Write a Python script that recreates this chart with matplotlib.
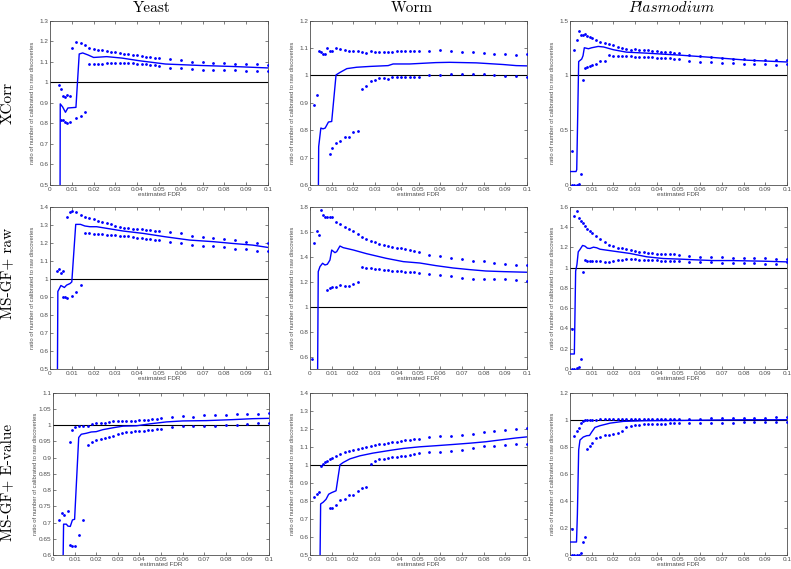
import numpy as np
import matplotlib
matplotlib.use("Agg")
import matplotlib.pyplot as plt

plt.rcParams["font.family"] = ["Liberation Sans", "DejaVu Sans"]
nan = float("nan")

# FDR grid where the bound dots sit
dot_x = [0.001, 0.002, 0.003, 0.004, 0.005, 0.006, 0.007, 0.008, 0.009, 0.010,
         0.012, 0.014, 0.016, 0.018, 0.020, 0.022, 0.024, 0.026, 0.028, 0.030,
         0.032, 0.034, 0.036, 0.038, 0.040, 0.042, 0.044, 0.046, 0.048, 0.050,
         0.055, 0.060, 0.065, 0.070, 0.075, 0.080, 0.085, 0.090, 0.095, 0.100]

# ---- XCorr ----
yeast_xcorr_hi = [nan, nan, nan, 0.987, 0.966, 0.934, 0.930, 0.937, 0.935, 1.167,
                  1.195, 1.190, 1.180, 1.167, 1.160, 1.158, 1.155, 1.152, 1.148, 1.146,
                  1.143, 1.140, 1.137, 1.135, 1.132, 1.128, 1.125, 1.122, 1.120, 1.118,
                  1.113, 1.108, 1.100, 1.097, 1.095, 1.094, 1.090, 1.089, 1.088, 1.086]
yeast_xcorr_lo = [nan, nan, nan, nan, 0.818, 0.818, 0.806, 0.800, 0.806, nan,
                  0.826, 0.838, 0.854, 1.090, 1.090, 1.090, 1.090, 1.092, 1.092, 1.094,
                  1.096, 1.095, 1.094, 1.092, 1.090, 1.088, 1.087, 1.086, 1.084, 1.080,
                  1.070, 1.070, 1.066, 1.061, 1.061, 1.061, 1.059, 1.056, 1.054, 1.054]
yeast_xcorr_lx = [0.0046, 0.0047, 0.0058, 0.0071, 0.0082, 0.0119, 0.0134, 0.0150, 0.0175,
                  0.020, 0.026, 0.033, 0.041, 0.053, 0.069, 0.084, 0.100]
yeast_xcorr_ly = [0.40, 0.895, 0.880, 0.854, 0.875, 0.878, 1.138, 1.143, 1.133,
                  1.121, 1.125, 1.118, 1.105, 1.089, 1.082, 1.077, 1.070]

worm_xcorr_hi = [nan, 0.891, 0.930, 1.088, 1.084, 1.079, 1.077, 1.100, 1.091, 1.089,
                 1.102, 1.095, 1.094, 1.091, 1.088, 1.088, 1.084, 1.081, 1.088, 1.087,
                 1.087, 1.086, 1.085, 1.087, 1.088, 1.090, 1.091, 1.091, 1.091, 1.091,
                 1.091, 1.093, 1.090, 1.086, 1.085, 1.083, 1.080, 1.078, 1.075, 1.077]
worm_xcorr_lo = [nan, nan, nan, nan, nan, nan, nan, nan, 0.712, 0.735,
                 0.752, 0.760, 0.775, 0.775, 0.795, 0.796, 0.952, 0.962, 0.978, 0.984,
                 0.989, 0.991, 0.988, 0.995, 0.995, 0.995, 0.995, 0.993, 0.993, 0.996,
                 1.002, 1.002, 1.006, 1.006, 1.007, 1.004, 1.002, 0.998, 0.998, 0.994]
worm_xcorr_lx = [0.0038, 0.0040, 0.0050, 0.0060, 0.0070, 0.0085, 0.0100, 0.0120, 0.0138,
                 0.0170, 0.0215, 0.0276, 0.0360, 0.0383, 0.0460, 0.0580, 0.0644, 0.0767,
                 0.0890, 0.0950, 0.1000]
worm_xcorr_ly = [0.50, 0.740, 0.808, 0.805, 0.808, 0.830, 0.832, 1.002, 1.011,
                 1.025, 1.030, 1.033, 1.036, 1.042, 1.042, 1.047, 1.048, 1.046,
                 1.040, 1.036, 1.035]

plas_xcorr_hi = [0.312, 1.235, 1.327, 1.404, 1.373, 1.373, 1.380, 1.364, 1.350, 1.343,
                 1.327, 1.309, 1.300, 1.287, 1.278, 1.262, 1.247, 1.238, 1.235, 1.238,
                 1.235, 1.232, 1.228, 1.224, 1.220, 1.217, 1.213, 1.210, 1.207, 1.204,
                 1.191, 1.179, 1.170, 1.160, 1.154, 1.151, 1.145, 1.145, 1.145, 1.139]
plas_xcorr_lo = [0.0, 0.0, 0.0, 0.012, 0.098, 0.960, 1.071, 1.080, 1.086, 1.093,
                 1.105, 1.130, 1.130, 1.188, 1.182, 1.179, 1.176, 1.175, 1.174, 1.172,
                 1.170, 1.168, 1.166, 1.165, 1.163, 1.160, 1.157, 1.155, 1.152, 1.148,
                 1.130, 1.127, 1.120, 1.117, 1.111, 1.108, 1.105, 1.102, 1.096, 1.105]
plas_xcorr_lx = [0.0, 0.0028, 0.0031, 0.0040, 0.0054, 0.0060, 0.0066, 0.0085, 0.0100,
                 0.0130, 0.0155, 0.020, 0.026, 0.035, 0.051, 0.066, 0.082, 0.100]
plas_xcorr_ly = [0.123, 0.123, 0.140, 1.127, 1.150, 1.180, 1.253, 1.244, 1.253,
                 1.265, 1.260, 1.235, 1.213, 1.204, 1.185, 1.164, 1.139, 1.123]

# ---- MS-GF+ raw ----
yeast_raw_hi = [nan, nan, 1.044, 1.057, 1.035, 1.044, nan, 1.344, 1.369, 1.376,
                1.369, 1.354, 1.343, 1.335, 1.333, 1.322, 1.315, 1.309, 1.302, 1.294,
                1.289, 1.283, 1.280, 1.278, 1.276, 1.274, 1.272, 1.270, 1.268, 1.267,
                1.257, 1.252, 1.239, 1.230, 1.224, 1.219, 1.213, 1.207, 1.200, 1.196]
yeast_raw_lo = [nan, nan, nan, nan, nan, 0.902, 0.898, 0.891, nan, 0.904,
                0.928, 0.965, 1.252, 1.252, 1.250, 1.248, 1.246, 1.245, 1.243, 1.241,
                1.239, 1.237, 1.235, 1.232, 1.229, 1.226, 1.223, 1.220, 1.217, 1.213,
                1.207, 1.198, 1.190, 1.181, 1.180, 1.178, 1.167, 1.163, 1.157, 1.152]
yeast_raw_lx = [0.0034, 0.0036, 0.0040, 0.0050, 0.0066, 0.0076, 0.0092, 0.0100, 0.0118,
                0.0140, 0.0160, 0.0183, 0.0214, 0.026, 0.0336, 0.0427, 0.053, 0.064,
                0.075, 0.084, 0.093, 0.100]
yeast_raw_ly = [0.45, 0.930, 0.939, 0.963, 0.952, 0.965, 0.974, 0.983, 1.302,
                1.302, 1.293, 1.289, 1.289, 1.280, 1.265, 1.252, 1.233, 1.215,
                1.206, 1.196, 1.187, 1.174]

worm_raw_hi = [0.580, 1.507, 1.605, 1.571, 1.776, 1.736, 1.715, 1.715, 1.717, 1.717,
               1.680, 1.661, 1.640, 1.624, 1.603, 1.581, 1.557, 1.539, 1.525, 1.515,
               1.504, 1.496, 1.485, 1.477, 1.472, 1.467, 1.459, 1.451, 1.445, 1.437,
               1.416, 1.405, 1.389, 1.381, 1.368, 1.363, 1.347, 1.344, 1.336, 1.336]
worm_raw_lo = [nan, nan, nan, nan, nan, nan, nan, 1.133, 1.152, 1.160,
               1.160, 1.173, 1.168, 1.165, 1.184, 1.195, 1.315, 1.309, 1.309, 1.304,
               1.301, 1.296, 1.293, 1.288, 1.285, 1.283, 1.280, 1.277, 1.273, 1.269,
               1.264, 1.253, 1.243, 1.232, 1.224, 1.221, 1.219, 1.219, 1.213, 1.205]
worm_raw_lx = [0.0035, 0.0038, 0.0046, 0.0058, 0.0069, 0.0080, 0.0092, 0.0100, 0.0115,
               0.0123, 0.0138, 0.0153, 0.020, 0.026, 0.035, 0.043, 0.0506, 0.058,
               0.066, 0.0736, 0.081, 0.089, 0.100]
worm_raw_ly = [0.45, 1.280, 1.320, 1.347, 1.333, 1.339, 1.373, 1.453, 1.432,
               1.440, 1.485, 1.472, 1.453, 1.424, 1.387, 1.360, 1.349, 1.328,
               1.309, 1.296, 1.285, 1.280, 1.275]

plas_raw_hi = [0.396, 1.510, 1.554, 1.490, 1.462, 1.436, 1.409, 1.376, 1.356, 1.340,
               1.307, 1.284, 1.251, 1.224, 1.208, 1.195, 1.188, 1.181, 1.172, 1.165,
               1.152, 1.149, 1.142, 1.139, 1.135, 1.135, 1.132, 1.129, 1.129, 1.119,
               1.112, 1.109, 1.106, 1.102, 1.096, 1.096, 1.096, 1.092, 1.089, 1.089]
plas_raw_lo = [0.0, 0.0, 0.005, 0.020, 0.100, 0.957, 1.073, 1.066, 1.066, 1.066,
               1.063, 1.060, 1.058, 1.058, 1.066, 1.070, 1.073, 1.085, 1.083, 1.080,
               1.078, 1.076, 1.073, 1.072, 1.070, 1.068, 1.066, 1.066, 1.063, 1.063,
               1.053, 1.053, 1.053, 1.046, 1.046, 1.046, 1.043, 1.040, 1.040, 1.053]
plas_raw_lx = [0.0, 0.0020, 0.0026, 0.0032, 0.0038, 0.0046, 0.0058, 0.0069, 0.0080,
               0.0092, 0.0108, 0.0123, 0.0138, 0.020, 0.0277, 0.0354, 0.043, 0.051,
               0.058, 0.066, 0.074, 0.0815, 0.089, 0.100]
plas_raw_ly = [0.148, 0.148, 0.964, 1.030, 1.155, 1.178, 1.218, 1.211, 1.191,
               1.188, 1.201, 1.195, 1.181, 1.162, 1.139, 1.106, 1.089, 1.083,
               1.076, 1.069, 1.069, 1.066, 1.063, 1.056]

# ---- MS-GF+ E-value ----
yeast_ev_hi = [nan, nan, 0.707, 0.729, 0.722, nan, 0.735, 0.948, 0.986, 0.993,
               0.997, 0.997, 0.997, 1.004, 1.007, 1.007, 1.007, 1.009, 1.012, 1.012,
               1.012, 1.013, 1.013, 1.014, 1.015, 1.016, 1.017, 1.019, 1.020, 1.021,
               1.025, 1.027, 1.026, 1.030, 1.030, 1.032, 1.033, 1.034, 1.035, 1.038]
yeast_ev_lo = [nan, nan, nan, nan, nan, nan, nan, 0.632, 0.629, 0.628,
               0.662, 0.708, 0.938, 0.947, 0.953, 0.958, 0.961, 0.965, 0.968, 0.972,
               0.975, 0.978, 0.980, 0.981, 0.982, 0.983, 0.985, 0.986, 0.987, 0.989,
               0.993, 0.996, 0.996, 0.997, 0.998, 1.000, 1.002, 1.003, 1.006, 1.007]
yeast_ev_lx = [0.0046, 0.0049, 0.0062, 0.0069, 0.0080, 0.0090, 0.0100, 0.0119, 0.0131,
               0.0154, 0.0177, 0.020, 0.023, 0.0278, 0.0324, 0.0386, 0.0448, 0.0525,
               0.060, 0.071, 0.083, 0.0926, 0.100]
yeast_ev_ly = [0.55, 0.695, 0.695, 0.689, 0.688, 0.708, 0.710, 0.962, 0.972,
               0.975, 0.979, 0.980, 0.986, 0.992, 0.997, 0.998, 1.004, 1.010,
               1.013, 1.014, 1.017, 1.020, 1.021]

worm_ev_hi = [nan, 0.819, 0.837, 0.852, 0.991, 1.004, 1.015, 1.022, 1.035, 1.037,
              1.050, 1.061, 1.070, 1.078, 1.083, 1.089, 1.094, 1.100, 1.106, 1.109,
              1.113, 1.117, 1.120, 1.124, 1.128, 1.131, 1.135, 1.139, 1.143, 1.144,
              1.152, 1.159, 1.161, 1.167, 1.172, 1.181, 1.187, 1.191, 1.198, 1.202]
worm_ev_lo = [nan, nan, nan, nan, nan, nan, nan, nan, 0.763, 0.763,
              0.778, 0.804, 0.813, 0.830, 0.833, 0.857, 0.870, 0.878, 1.007, 1.019,
              1.031, 1.033, 1.037, 1.043, 1.044, 1.048, 1.050, 1.054, 1.059, 1.063,
              1.069, 1.070, 1.076, 1.083, 1.094, 1.102, 1.104, 1.111, 1.113, 1.117]
worm_ev_lx = [0.0046, 0.0049, 0.0061, 0.0074, 0.0086, 0.0100, 0.0120, 0.0138, 0.0153,
              0.0184, 0.023, 0.029, 0.0368, 0.043, 0.0506, 0.058, 0.066, 0.0736,
              0.081, 0.089, 0.095, 0.100]
worm_ev_ly = [0.45, 0.783, 0.793, 0.809, 0.837, 0.846, 0.856, 1.000, 1.013,
              1.033, 1.050, 1.065, 1.080, 1.091, 1.100, 1.106, 1.113, 1.120,
              1.128, 1.140, 1.149, 1.155]

plas_ev_hi = [0.194, 0.880, 0.914, 0.936, 0.975, 0.990, 0.995, 0.995, 0.997, 1.000,
              1.000, 1.002, 1.002, 1.002, 1.003, 1.003, 1.003, 1.003, 1.003, 1.003,
              1.003, 1.004, 1.004, 1.004, 1.004, 1.005, 1.005, 1.005, 1.005, 1.006,
              1.008, 1.008, 1.010, 1.010, 1.012, 1.012, 1.015, 1.015, 1.020, 1.022]
plas_ev_lo = [0.0, 0.0, 0.0, 0.0, 0.012, 0.096, 0.130, 0.786, 0.806, 0.830,
              0.868, 0.873, 0.884, 0.884, 0.894, 0.902, 0.914, 0.943, 0.953, 0.961,
              0.963, 0.966, 0.968, 0.969, 0.970, 0.971, 0.972, 0.973, 0.974, 0.975,
              0.978, 0.978, 0.978, 0.978, 0.978, 0.980, 0.980, 0.980, 0.980, 0.985]
plas_ev_lx = [0.0, 0.0030, 0.0034, 0.0040, 0.0046, 0.0061, 0.0077, 0.0090, 0.0100,
              0.0115, 0.0138, 0.0185, 0.0246, 0.035, 0.051, 0.066, 0.0815, 0.100]
plas_ev_ly = [0.096, 0.096, 0.300, 0.777, 0.850, 0.872, 0.882, 0.884, 0.909,
              0.943, 0.956, 0.975, 0.988, 0.993, 0.995, 0.998, 1.000, 1.000]

x_ticks = [0, 0.01, 0.02, 0.03, 0.04, 0.05, 0.06, 0.07, 0.08, 0.09, 0.1]
x_ticklabels = ["0", "0.01", "0.02", "0.03", "0.04", "0.05", "0.06", "0.07", "0.08", "0.09", "0.1"]

col_titles = ["Yeast", "Worm", "Plasmodium"]
row_titles = ["XCorr", "MS-GF+ raw", "MS-GF+ E-value"]

panels = [
    # row, col, hi, lo, line x, line y, ylim, yticks
    (0, 0, yeast_xcorr_hi, yeast_xcorr_lo, yeast_xcorr_lx, yeast_xcorr_ly, (0.5, 1.3),
     [0.5, 0.6, 0.7, 0.8, 0.9, 1.0, 1.1, 1.2, 1.3]),
    (0, 1, worm_xcorr_hi, worm_xcorr_lo, worm_xcorr_lx, worm_xcorr_ly, (0.6, 1.2),
     [0.6, 0.7, 0.8, 0.9, 1.0, 1.1, 1.2]),
    (0, 2, plas_xcorr_hi, plas_xcorr_lo, plas_xcorr_lx, plas_xcorr_ly, (0, 1.5),
     [0, 0.5, 1.0, 1.5]),
    (1, 0, yeast_raw_hi, yeast_raw_lo, yeast_raw_lx, yeast_raw_ly, (0.5, 1.4),
     [0.5, 0.6, 0.7, 0.8, 0.9, 1.0, 1.1, 1.2, 1.3, 1.4]),
    (1, 1, worm_raw_hi, worm_raw_lo, worm_raw_lx, worm_raw_ly, (0.5, 1.8),
     [0.6, 0.8, 1.0, 1.2, 1.4, 1.6, 1.8]),
    (1, 2, plas_raw_hi, plas_raw_lo, plas_raw_lx, plas_raw_ly, (0, 1.6),
     [0, 0.2, 0.4, 0.6, 0.8, 1.0, 1.2, 1.4, 1.6]),
    (2, 0, yeast_ev_hi, yeast_ev_lo, yeast_ev_lx, yeast_ev_ly, (0.6, 1.1),
     [0.6, 0.65, 0.7, 0.75, 0.8, 0.85, 0.9, 0.95, 1.0, 1.05, 1.1]),
    (2, 1, worm_ev_hi, worm_ev_lo, worm_ev_lx, worm_ev_ly, (0.5, 1.4),
     [0.5, 0.6, 0.7, 0.8, 0.9, 1.0, 1.1, 1.2, 1.3, 1.4]),
    (2, 2, plas_ev_hi, plas_ev_lo, plas_ev_lx, plas_ev_ly, (0, 1.2),
     [0, 0.2, 0.4, 0.6, 0.8, 1.0, 1.2]),
]

W, H = 791, 569
cols_px = [(50, 268), (310, 527), (570, 787)]
rows_px = [(20.7, 185), (206.7, 369), (392.7, 555.0)]

fig = plt.figure(figsize=(W / 100, H / 100), dpi=100)
blue = (0, 0, 1)
edge = "0.3"

for r, c, hi, lo, lx, ly, ylim, yt in panels:
    l, rr = cols_px[c]
    if r == 2 and c == 0:
        l, rr = 53, 269
    t, b = rows_px[r]
    ax = fig.add_axes([l / W, 1 - b / H, (rr - l) / W, (b - t) / H])
    ax.axhline(1, color="k", lw=0.8, zorder=2)
    ax.plot(dot_x, hi, ".", color=blue, ms=2.0, zorder=3)
    ax.plot(dot_x, lo, ".", color=blue, ms=2.0, zorder=3)
    ax.plot(lx, ly, "-", color=blue, lw=1.0, zorder=4)
    ax.set_xlim(0, 0.1)
    ax.set_ylim(*ylim)
    ax.set_xticks(x_ticks)
    ax.set_xticklabels(x_ticklabels)
    ax.set_yticks(yt)
    ax.set_yticklabels([f"{v:g}" for v in yt])
    ax.tick_params(direction="in", length=2, width=0.5, top=True, right=True,
                   labelsize=4.6, colors=edge, pad=1.2)
    for s in ax.spines.values():
        s.set_color(edge)
        s.set_linewidth(0.6)
    ax.set_xlabel("estimated FDR", fontsize=4.6, color=edge)
    ax.xaxis.set_label_coords(0.5, -6.5 / (b - t))
    ax.set_ylabel("ratio of number of calibrated to raw discoveries", fontsize=4.2, color=edge)
    ax.yaxis.set_label_coords(-15 / (rr - l), 0.5)

title_x = [152, 412, 672]
for i, name in enumerate(col_titles):
    fam = "cmmi10" if name == "Plasmodium" else "cmr10"
    fig.text(title_x[i] / W, 1 - 8 / H, name, ha="center", va="center",
             fontsize=11, family=fam)

row_y = [103, 273, 482]
for i, name in enumerate(row_titles):
    fig.text(7.5 / W, 1 - row_y[i] / H, name, ha="center", va="center",
             rotation=90, fontsize=11, family="cmr10")

fig.savefig("out.png", dpi=100)
